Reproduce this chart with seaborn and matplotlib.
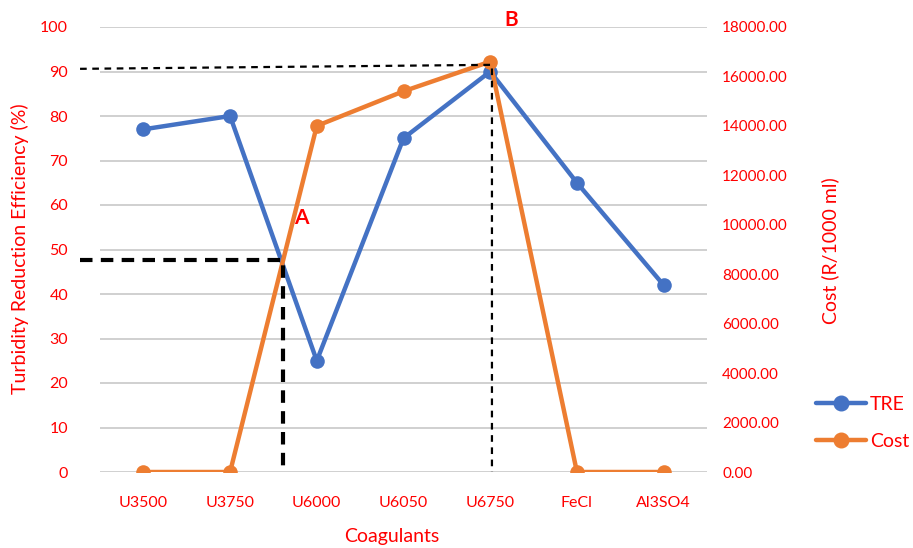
import pandas as pd
import numpy as np
import matplotlib
matplotlib.use("Agg")
import matplotlib.pyplot as plt
import seaborn as sns
from matplotlib.lines import Line2D

# Data
coagulants = ["U3500", "U3750", "U6000", "U6050", "U6750", "FeCl", "Al3SO4"]
tre_values = [77, 80, 25, 75, 90, 65, 42]
cost_values = [0, 0, 14000, 15400, 16600, 0, 0]
left_ticks = list(range(0, 101, 10))
right_ticks = list(range(0, 18001, 2000))

# Guide lines marking points A and B (left-axis data coordinates)
guide_a_x = [-0.73, 1.61, 1.61]
guide_a_y = [47.6, 47.6, 0.8]
guide_b_x = [-0.73, 4.02, 4.02]
guide_b_y = [90.6, 91.5, 0]

BLUE = "#4472C4"
ORANGE = "#ED7D31"
RED = "#FF0000"

sns.set_theme(style="white")
plt.rcParams["font.family"] = ["Lato", "DejaVu Sans"]

df = pd.DataFrame({"pos": np.arange(len(coagulants)), "coagulant": coagulants,
                   "TRE": tre_values, "Cost": cost_values})

fig, ax = plt.subplots(figsize=(9.13, 5.48), dpi=100)
fig.subplots_adjust(left=100 / 913, right=707 / 913, top=1 - 27 / 548, bottom=1 - 472 / 548)

sns.lineplot(data=df, x="pos", y="TRE", ax=ax, color=BLUE, linewidth=3.2,
             marker="o", markersize=10.5, markeredgewidth=0, sort=False, legend=False)
ax2 = ax.twinx()
sns.lineplot(data=df, x="pos", y="Cost", ax=ax2, color=ORANGE, linewidth=3.2,
             marker="o", markersize=10.5, markeredgewidth=0, sort=False, legend=False)

ax.set_xlim(-0.5, len(coagulants) - 0.5)
ax.set_ylim(0, 100)
ax2.set_ylim(0, 18000)
ax.set_yticks(left_ticks)
ax2.set_yticks(right_ticks)
ax2.set_yticklabels([f"{v:.2f}" for v in right_ticks])
ax.set_xticks(df["pos"])
ax.set_xticklabels(coagulants)

ax.grid(axis="y", color="#C8C8C8", linewidth=1.2)
ax.set_axisbelow(True)
for a in (ax, ax2):
    for s in a.spines.values():
        s.set_visible(False)
    a.tick_params(length=0, colors=RED, labelsize=11.5)
ax.tick_params(axis="y", pad=23)
ax.tick_params(axis="x", pad=17)
ax2.tick_params(axis="y", labelsize=11, pad=11)

ax.set_ylabel("Turbidity Reduction Efficiency (%)", color=RED, fontsize=14, va="center")
ax.yaxis.set_label_coords(-0.132, 0.501)
ax.set_xlabel("Coagulants", color=RED, fontsize=14, va="center")
ax.xaxis.set_label_coords(0.481, -0.146)
ax2.set_ylabel("Cost (R/1000 ml)", color=RED, fontsize=14, va="center")
ax2.yaxis.set_label_coords(1.203, 0.497)

# dashed guide lines on top of both series
ax2.plot(guide_a_x, guide_a_y, transform=ax.transData, color="black",
         linewidth=3, linestyle=(0, (3, 2)), clip_on=False, zorder=10)
ax2.plot(guide_b_x, guide_b_y, transform=ax.transData, color="black",
         linewidth=1.6, linestyle=(0, (3, 2.5)), clip_on=False, zorder=10)
ax2.text(1.82, 57, "A", transform=ax.transData, color=RED, fontsize=15,
         fontweight="bold", ha="center", va="center")
ax2.text(4.24, 101.5, "B", transform=ax.transData, color=RED, fontsize=15,
         fontweight="bold", ha="center", va="center", clip_on=False)

handles = [Line2D([], [], color=BLUE, linewidth=3.2, marker="o", markersize=10.5),
           Line2D([], [], color=ORANGE, linewidth=3.2, marker="o", markersize=10.5)]
fig.legend(handles, ["TRE", "Cost"], loc="center left", bbox_to_anchor=(798 / 913, 1 - 423 / 548),
           frameon=False, fontsize=14, labelcolor=RED, handlelength=2.6,
           handletextpad=0.2, labelspacing=1.0)

fig.savefig("out.png", dpi=100)
